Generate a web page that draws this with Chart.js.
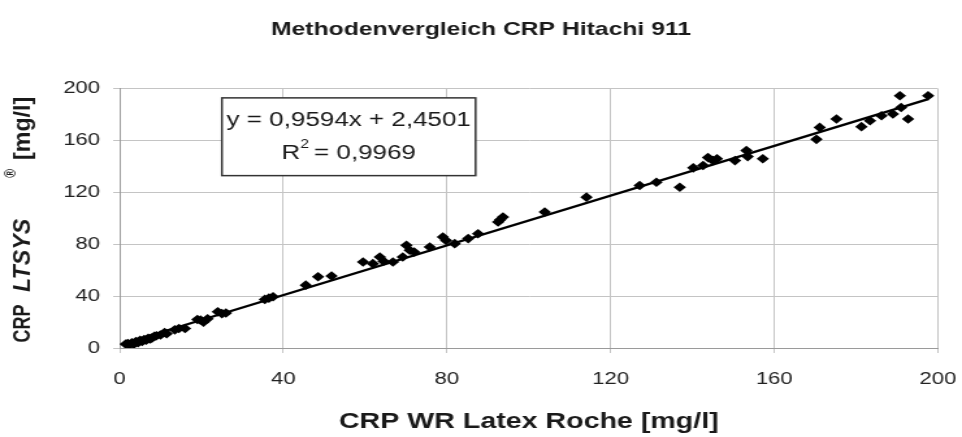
<!DOCTYPE html>
<html>
<head>
<meta charset="utf-8">
<script src="https://cdn.jsdelivr.net/npm/chart.js@4.4.1/dist/chart.umd.min.js"></script>
<style>
  html, body { margin: 0; padding: 0; background: #fff; overflow: hidden; }
  /* the source image is stretched sideways, so the whole chart is too */
  #wrap { width: 740px; height: 437px; transform: scaleX(1.3); transform-origin: 0 0; }
</style>
</head>
<body>
<div id="wrap"><canvas id="myScatter"></canvas></div>
<script>
const ctx = document.getElementById("myScatter").getContext("2d");

const chartTitle = "Methodenvergleich CRP Hitachi 911";
const xAxisTitle = "CRP WR Latex Roche [mg/l]";
const tickValues = [0, 40, 80, 120, 160, 200];

// CRP WR Latex Roche (x) vs CRP LTSYS (y), mg/l
const xValues = [1.5, 2, 2.5, 3, 3.5, 4, 4.5, 5, 5.5, 6, 6.5, 7, 7.5, 8, 8.5, 9, 10, 11, 11.5,
  13.5, 14.5, 16, 19, 19.8, 20.5, 21.5, 24, 25, 26, 35.5, 36.5, 37.5, 45.5, 48.5, 51.8,
  59.5, 61.9, 63.6, 64.5, 66.8, 69.2, 70.1, 70.9, 72, 75.8, 79, 79.8, 81.9, 85.2, 87.6,
  92.5, 93, 93.7, 103.9, 114.1, 127.1, 131.2, 136.9, 140.2, 142.6, 143.8, 145, 146,
  150.4, 153.2, 153.5, 157.2, 170.3, 171.1, 175.2, 181.3, 183.4, 186.2, 189, 190.7,
  191, 192.7, 197.6];
const yValues = [3, 3.5, 2.5, 4, 3, 5, 4, 6, 5, 6.5, 6, 7.5, 7, 8, 9, 9.5, 10, 12, 11,
  14, 15, 15, 22, 21.5, 20, 22.5, 28, 26.5, 27, 37.5, 38.5, 39.5, 48.5, 55, 55.5,
  66.4, 65.1, 70.2, 67, 66.4, 70.2, 79.2, 75.4, 74, 77.9, 85.6, 83, 80.5, 84.4, 88.2,
  97.2, 99, 101, 104.9, 116.4, 125.4, 127.9, 124, 139, 140.8, 146.9, 144.6, 146,
  144.6, 152.3, 147.7, 146, 161, 170.2, 176.7, 170.8, 175.4, 179.2, 180.5, 194.6,
  185.6, 176.7, 194.6];

// linear trend line from the source
const slope = 0.9594;
const intercept = 2.4501;
const rSquared = "0,9969";

const points = xValues.map((x, i) => ({ x: x, y: yValues[i] }));
const xMin = Math.min(...xValues);
const xMax = Math.max(...xValues);
const trend = [xMin, xMax].map(x => ({ x: x, y: slope * x + intercept }));

const fontFamily = "'Liberation Sans', Arial, sans-serif";

// draws one piece of rotated text, stretched along its length
function part(c, text, font, u, v, stretch) {
  c.save();
  c.translate(u, v);
  c.scale(stretch, 1);
  c.font = font;
  c.fillText(text, 0, 0);
  c.restore();
}

const extraText = {
  id: "extraText",
  afterDraw(chart) {
    const c = chart.ctx;
    const area = chart.chartArea;
    c.save();
    c.fillStyle = "#1a1a1a";

    // y axis title with mixed styles
    const cy = (area.top + area.bottom) / 2;
    c.translate(18, cy);
    c.rotate(-Math.PI / 2);
    c.textAlign = "center";
    c.textBaseline = "middle";
    part(c, "CRP", "bold 18px " + fontFamily, -105, 0, 1);
    part(c, "LTSYS", "italic bold 19px " + fontFamily, -37, 0, 1.22);
    part(c, "®", "bold 12px " + fontFamily, 45, -9, 1);
    part(c, "[mg/l]", "bold 19px " + fontFamily, 90, 0, 1.22);
    c.restore();

    // regression box
    c.save();
    const w = area.right - area.left;
    const h = area.bottom - area.top;
    const bx = area.left + w * 0.125;
    const bw = w * 0.31;
    const by = area.top + h * 0.035;
    const bh = h * 0.3;
    c.fillStyle = "#fff";
    c.fillRect(bx, by, bw, bh);
    c.strokeStyle = "#333";
    c.lineWidth = 1.5;
    c.strokeRect(bx, by, bw, bh);
    c.fillStyle = "#1a1a1a";
    c.textAlign = "center";
    c.textBaseline = "middle";
    c.font = "20px " + fontFamily;
    const sign = intercept >= 0 ? " + " : " - ";
    const eq = "y = " + slope.toFixed(4).replace(".", ",") + "x" + sign +
      Math.abs(intercept).toFixed(4).replace(".", ",");
    c.fillText(eq, bx + bw / 2, by + bh * 0.29);
    const rest = " = " + rSquared;
    const rw = c.measureText("R").width;
    const restW = c.measureText(rest).width;
    const start = bx + bw / 2 - (rw + 5 + restW) / 2;
    c.textAlign = "left";
    c.fillText("R", start, by + bh * 0.72);
    c.font = "12px " + fontFamily;
    c.fillText("2", start + rw, by + bh * 0.6);
    c.font = "20px " + fontFamily;
    c.fillText(rest, start + rw + 5, by + bh * 0.72);
    c.restore();
  }
};

const data = {
  datasets: [
    {
      type: "scatter",
      label: "CRP",
      data: points,
      pointStyle: "rectRot",
      pointRadius: 4.8,
      pointHoverRadius: 4.8,
      backgroundColor: "#000",
      borderColor: "#000",
      borderWidth: 0,
      order: 2,
    },
    {
      type: "line",
      label: "Linear",
      data: trend,
      borderColor: "#000",
      borderWidth: 2.3,
      pointRadius: 0,
      fill: false,
      order: 1,
    },
  ],
};

const axisTicks = {
  color: "#222",
  font: { family: fontFamily, size: 17 },
};

const options = {
  responsive: true,
  maintainAspectRatio: false,
  animation: false,
  layout: { padding: 0 },
  plugins: {
    legend: { display: false },
    tooltip: { enabled: false },
    title: {
      display: true,
      text: chartTitle,
      color: "#1a1a1a",
      font: { family: fontFamily, size: 19, weight: "bold" },
      padding: { top: 18, bottom: 48 },
    },
  },
  scales: {
    x: {
      type: "linear",
      min: 0,
      max: 200,
      afterBuildTicks: s => { s.ticks = tickValues.map(v => ({ value: v })); },
      afterFit: s => { s.height = 89; s.paddingLeft = 0; s.paddingRight = 18.5; },
      ticks: { ...axisTicks, padding: 16, maxRotation: 0 },
      grid: { color: "#c4c4c4", lineWidth: 1, tickLength: 5 },
      border: { display: true, color: "#9a9a9a" },
      title: {
        display: true,
        text: xAxisTitle,
        color: "#1a1a1a",
        font: { family: fontFamily, size: 22, weight: "bold" },
        padding: { top: 0, bottom: 2 },
      },
    },
    y: {
      type: "linear",
      min: 0,
      max: 200,
      afterBuildTicks: s => { s.ticks = tickValues.map(v => ({ value: v })); },
      afterFit: s => { s.width = 92; },
      ticks: { ...axisTicks, padding: 10 },
      grid: { color: "#c4c4c4", lineWidth: 1, tickLength: 5 },
      border: { display: true, color: "#9a9a9a" },
    },
  },
};

new Chart(ctx, {
  type: "scatter",
  data: data,
  options: options,
  plugins: [extraText],
});
</script>
</body>
</html>
